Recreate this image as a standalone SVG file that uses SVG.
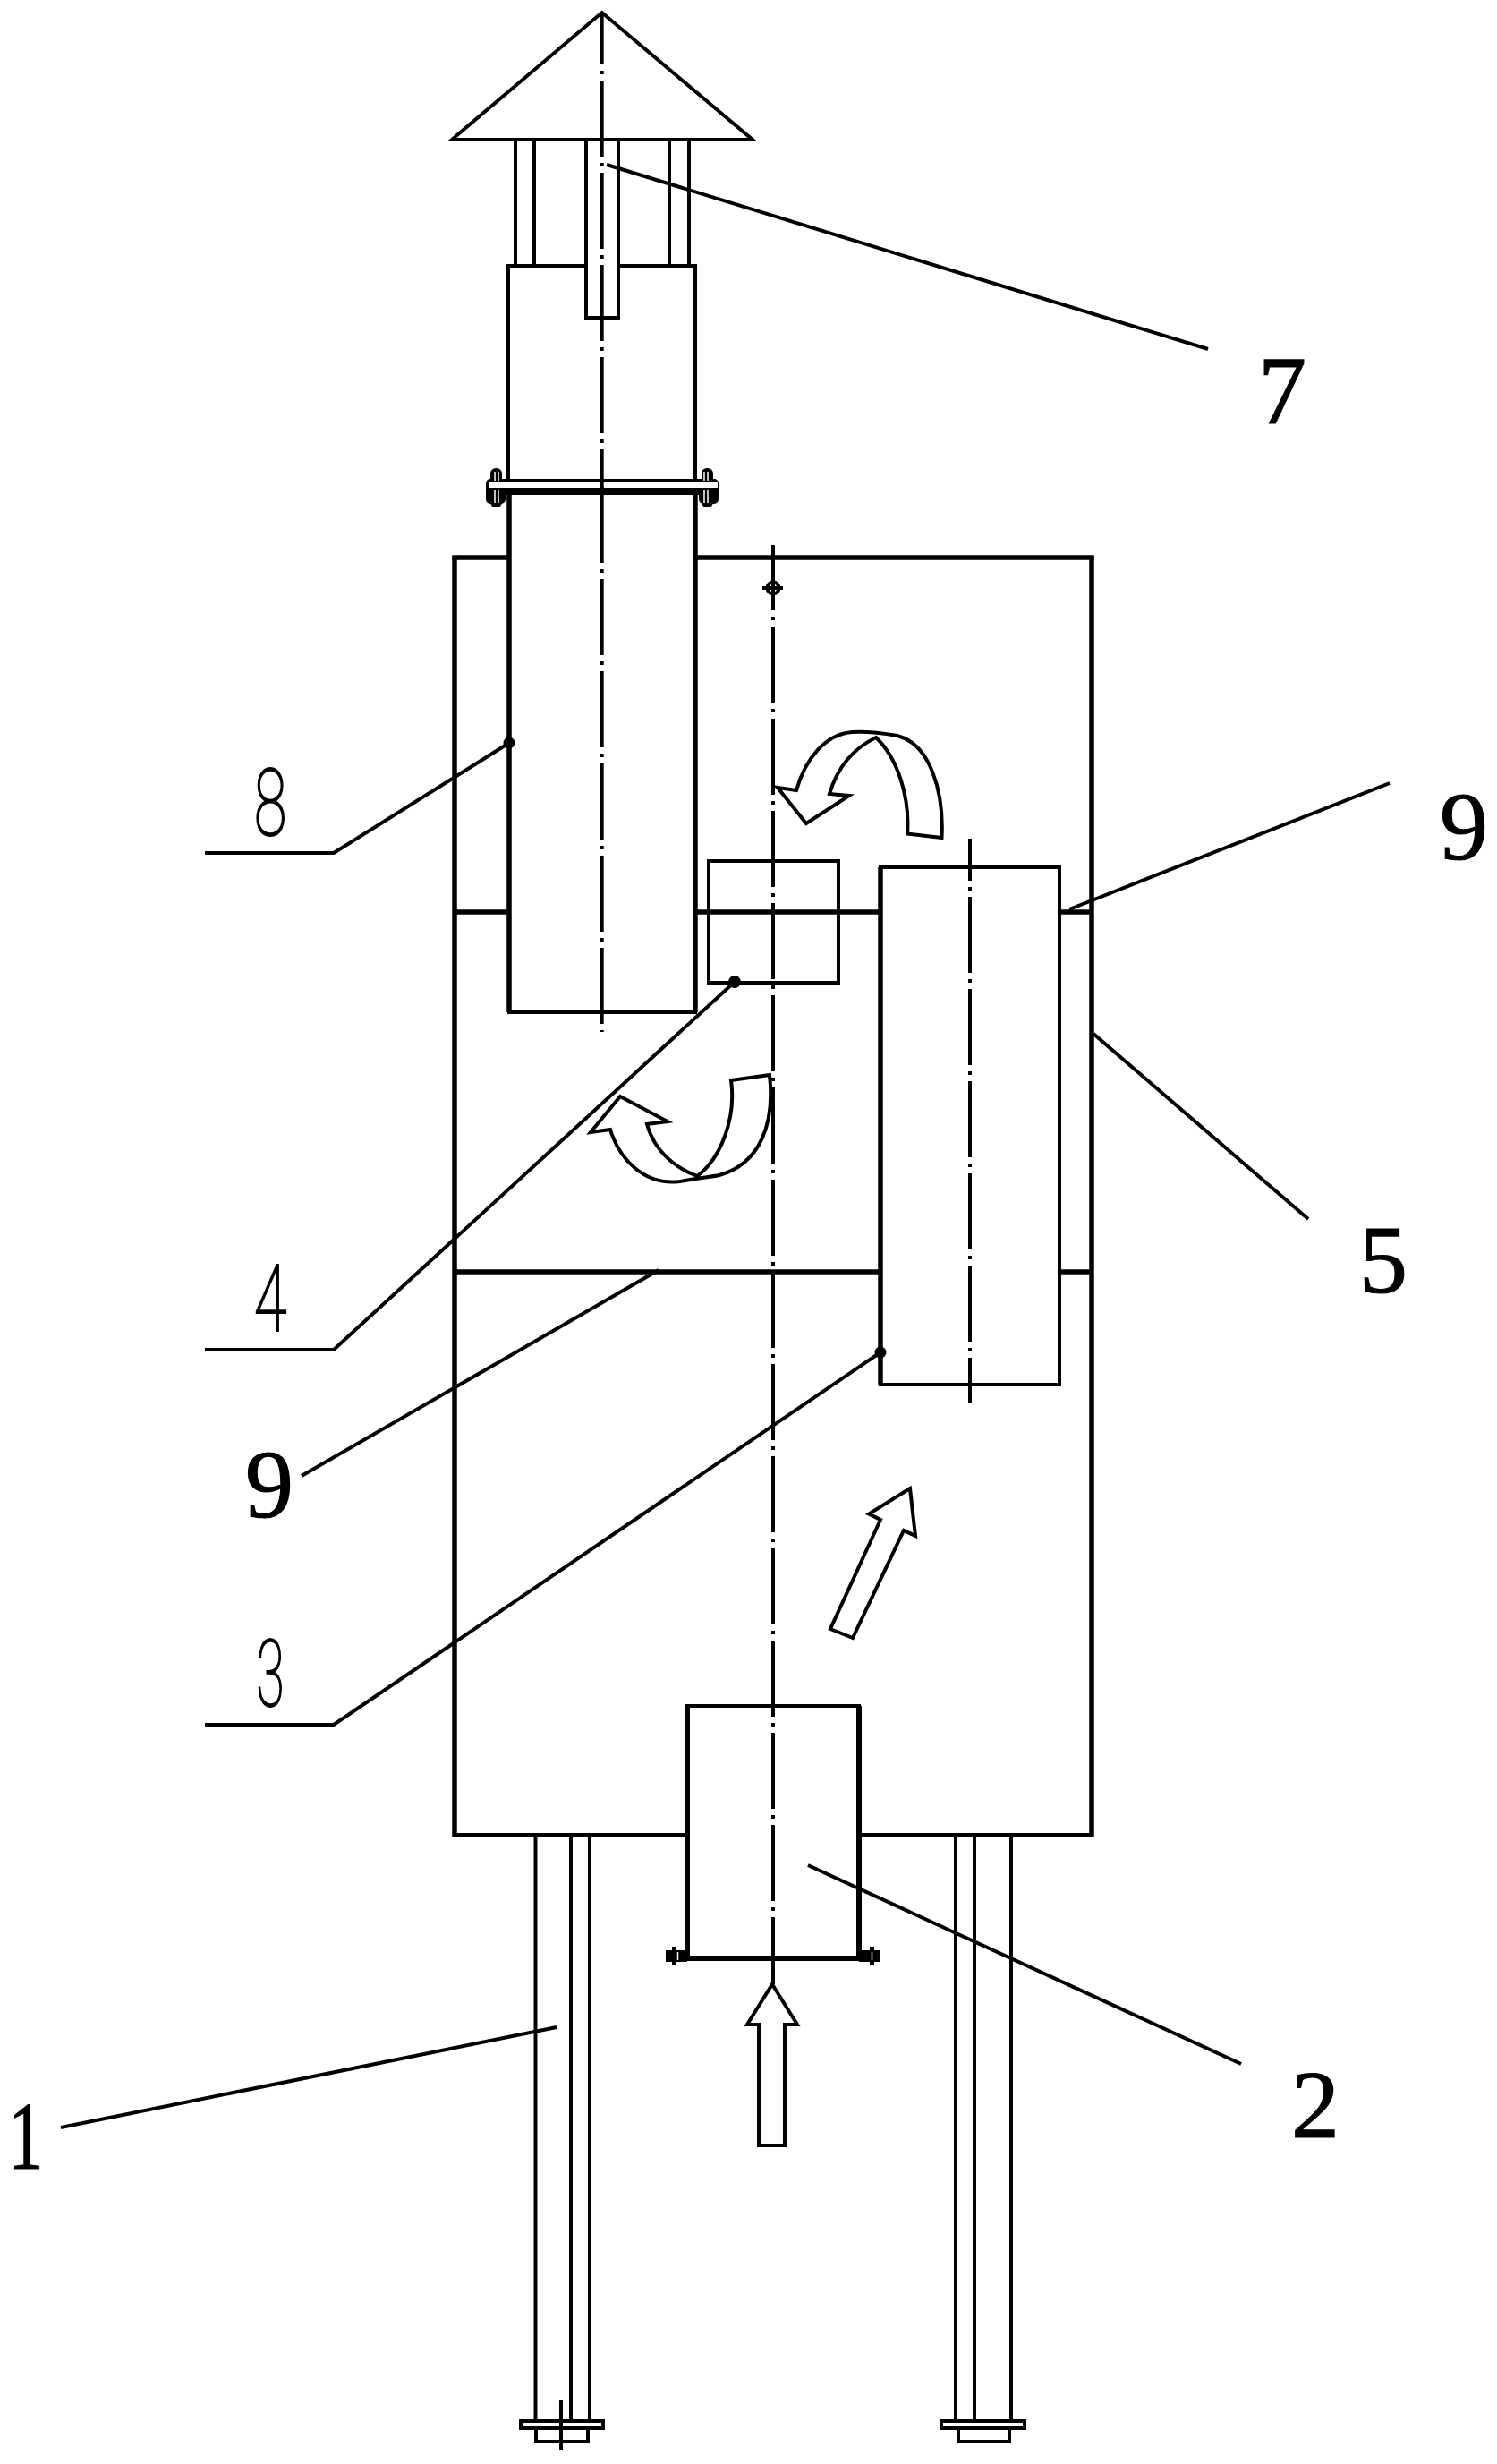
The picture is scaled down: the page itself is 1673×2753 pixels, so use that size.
<svg xmlns="http://www.w3.org/2000/svg" width="1673" height="2753" viewBox="0 0 1673 2753">
<style>
.l{fill:none;stroke:#000;stroke-width:4;stroke-linejoin:miter;stroke-linecap:butt}
.t{stroke-width:4}
.w{stroke-width:5.5}
.a{fill:none;stroke:#000;stroke-width:4;stroke-linejoin:miter}
.c{fill:none;stroke:#000;stroke-width:4;stroke-dasharray:85 7 4 7}
.k{fill:#000;stroke:none}
.h{stroke:#fff;stroke-width:1.5;fill:none}
.s{font-family:"Liberation Serif",serif;font-size:108px;fill:#000;text-anchor:middle;stroke:#000;stroke-width:1.2}
.g{font-family:Roboto,"Liberation Sans",sans-serif;font-weight:100;font-size:103px;fill:#000;text-anchor:middle;stroke:#000;stroke-width:2}
</style>
<g id="node-cap">
<path class="l" d="M505 156L672.700 14L841 156Z"/>
<path class="l" d="M576 156V297M597 156V297M748 156V297M770 156V297"/>
<path class="l t" d="M655 156V355H691V156"/>
<path class="l t" d="M568 537V297H655M691 297H777V537"/>
</g>
<g id="node-flange">
<rect class="k" x="543" y="535" width="22" height="28" rx="5"/><rect class="k" x="548" y="523" width="13" height="44" rx="6"/>
<rect class="k" x="781" y="535" width="22" height="28" rx="5"/><rect class="k" x="784" y="523" width="13" height="44" rx="6"/>
<path class="l" d="M546 537H800"/>
<rect x="547" y="539" width="255" height="6" fill="#fff"/>
<rect class="k" x="550" y="545" width="252" height="8"/>
<path class="h" d="M553 527V537M557 527V537M553 547V562M557 547V562M787 527V537M791 527V537M787 547V562M791 547V562"/>
</g>
<g id="node-8-tube">
<path class="l w" d="M569 553V1131M777 553V1131"/>
<path class="l t" d="M567 1131H779"/>
</g>
<g id="node-5-housing">
<path class="l w" d="M508 621V2052M1220 621V2052"/>
<path class="l w" d="M505.500 623H569M777 623H1222.500"/>
<path class="l" d="M506 2050H768M960 2050H1222"/>
</g>
<g id="node-9-partitions">
<path class="l w" d="M508 1019H569M777 1019H984M1184 1019H1220"/>
<path class="l w" d="M508 1421H984M1184 1421H1220"/>
</g>
<g id="node-4-box"><rect class="l t" x="792" y="962" width="145" height="136"/></g>
<g id="node-3-box">
<rect class="l" x="984" y="969" width="200" height="578"/>
<path class="l w" d="M984 969V1547"/>
</g>
<g id="node-2-inlet">
<path class="l t" d="M766 1906H962"/>
<path class="l" d="M768 1906V2186M960 1906V2186" style="stroke-width:6"/>
<rect class="k" x="744" y="2179" width="24" height="13"/><rect class="k" x="960" y="2179" width="24" height="13"/>
<rect class="k" x="765" y="2185" width="198" height="6"/>
<rect class="k" x="751" y="2175" width="5" height="20"/><rect class="k" x="972" y="2175" width="5" height="20"/>
<path class="h" d="M757.500 2181V2190M974.500 2181V2190"/>
</g>
<g id="node-1-leg-left">
<path class="l t" d="M598.500 2050V2705M659 2050V2705M638 2050V2705"/>
<rect class="l t" x="582" y="2705" width="92" height="8"/>
<path class="l t" d="M599 2713V2728H657V2713"/>
<path class="l t" d="M627 2682V2737"/>
</g>
<g id="node-leg-right">
<path class="l" d="M1068 2050V2705M1130 2050V2705M1089 2050V2705"/>
<rect class="l t" x="1052" y="2705" width="93" height="8"/>
<path class="l t" d="M1071 2713V2728H1128V2713"/>
</g>
<g id="node-centerlines">
<path class="c" stroke-dashoffset="27" d="M672.700 14V545"/>
<path class="c" d="M672.700 544V1153"/>
<path class="c" stroke-dashoffset="12" d="M864 609V2217"/>
<path class="c" stroke-dashoffset="38" d="M1084 937V1567"/>
<circle cx="864" cy="657" r="6.500" fill="none" stroke="#000" stroke-width="4"/>
<path class="l" d="M852 657H875"/>
</g>
<g id="node-flow-arrows">
<path class="a" d="M1014 931.500L1052.500 936C1055 885 1040 832 1003 822C985 819 970 817 953 818C922 820 900 848 890 883L869 880L901 920L949 889L927 887C935 860 950 838 979 824C1003 847 1017 890 1014 931.500Z"/>
<path class="a" d="M817 1207L860 1201C866 1255 850 1300 804 1313C795 1315 785 1315 760 1320C720 1325 692 1295 682 1262L660 1265L693 1225L746 1253L723 1256C730 1282 750 1303 779 1314C805 1295 823 1250 817 1207Z"/>
<path class="a" d="M1017 1663L1023 1716L1010 1710L953 1830L928 1820L984 1698L971 1691.500Z"/>
<path class="a" d="M863 2217L891 2262H877V2397H848V2262H835Z"/>
</g>
<g id="connectors">
<path class="l" d="M678 184L1350 390"/>
<path class="l" d="M229 953H373L569 830"/>
<path class="l" d="M229 1508H373L821 1097"/>
<path class="l" d="M229 1927H373L984 1511"/>
<path class="l" d="M736 1419L337 1649"/>
<path class="l" d="M1195 1016L1553 875"/>
<path class="l" d="M1222 1155L1462 1362"/>
<path class="l" d="M903 2084L1387 2306"/>
<path class="l" d="M622 2265L68 2377"/>
<circle class="k" cx="569" cy="830" r="6.500"/>
<circle class="k" cx="821" cy="1097" r="7"/>
<circle class="k" cx="984" cy="1511" r="6.500"/>
</g>
<g id="labels">
<text class="s" x="1433" y="473">7</text>
<text class="s" x="1636" y="960">9</text>
<text class="s" x="1546" y="1444">5</text>
<text class="s" x="301" y="1695">9</text>
<text class="s" transform="translate(29 2423) scale(.72 1)">1</text>
<text class="s" x="1470" y="2388">2</text>
<text class="g" transform="translate(302 933) scale(.65 1)">8</text>
<text class="g" transform="translate(302 1487) scale(.65 1)">4</text>
<text class="g" transform="translate(302 1906) scale(.55 1)">3</text>
</g>
</svg>
